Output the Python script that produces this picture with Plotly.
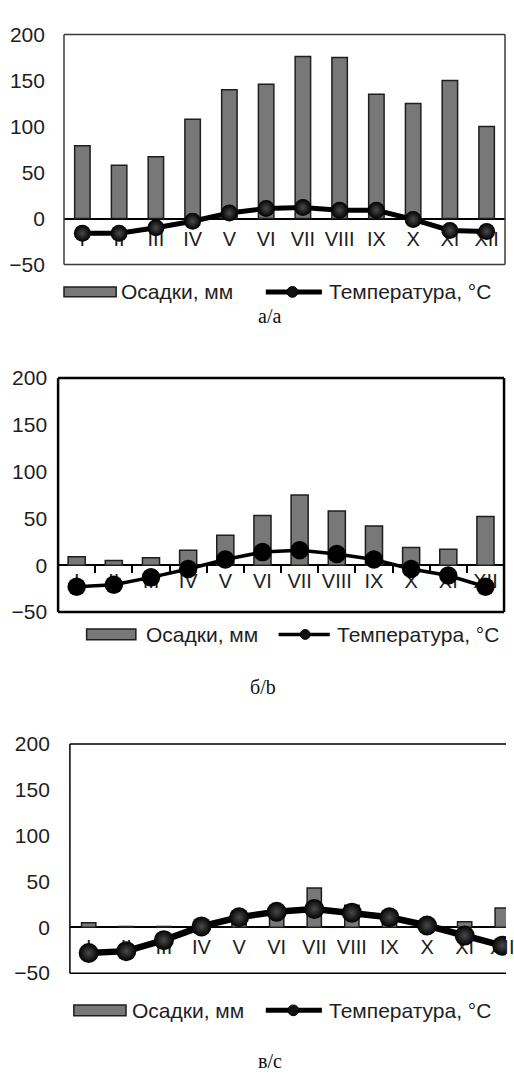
import plotly.graph_objects as go

# Месяцы, осадки (мм) и температура (°C) для трёх климатограмм
months = ["I", "II", "III", "IV", "V", "VI", "VII", "VIII", "IX", "X", "XI", "XII"]

precip_a = [79, 58, 67, 108, 140, 146, 176, 175, 135, 125, 150, 100]
temp_a = [-16, -16, -10, -3, 6, 11, 12, 9, 9, -1, -13, -14]

precip_b = [9, 5, 8, 16, 32, 53, 75, 58, 42, 19, 17, 52]
temp_b = [-23, -21, -13, -4, 6, 14, 16, 12, 6, -4, -11, -23]

precip_c = [5, 1, 1, 3, 8, 12, 43, 24, 12, 4, 6, 21]
temp_c = [-28, -26, -14, 1, 11, 17, 20, 16, 11, 2, -9, -20]

y_ticks = [-50, 0, 50, 100, 150, 200]
y_range = [-50, 200]
captions = ["а/a", "б/b", "в/c"]
series_names = ["Осадки, мм", "Температура, °C"]

W, H = 514, 1082


def fx(px):
    return px / W


def fy(py):
    return 1 - py / H


# Layout and style for each panel (pixel geometry of the page)
panels = [
    dict(precip=precip_a, temp=temp_a, box=(65, 23, 513, 258), xr=[-0.5, 11.5],
         bar_w=0.42, msize=17, lw=5, frame_w=1.5, frame_c="#3a3a3a", ticks=False,
         ystand=18, shade=True, right=True,
         leg=dict(r=(65, 118, 286, 10), t1=121, l=(270, 327), m=297, t2=332, lw=5, ms=11),
         cap=(274, 311)),
    dict(precip=precip_b, temp=temp_b, box=(59, 374, 512, 613), xr=[-0.5, 11.5],
         bar_w=0.46, msize=18.5, lw=3.5, frame_w=2.5, frame_c="#000000", ticks=True,
         ystand=10, shade=False, right=True,
         leg=dict(r=(88, 138, 636, 11), t1=146, l=(283, 335), m=310, t2=340, lw=3.5, ms=10),
         cap=(267, 690)),
    dict(precip=precip_c, temp=temp_c, box=(71, 748, 514, 982), xr=[-0.5, 11.1],
         bar_w=0.38, msize=20, lw=6.5, frame_w=1.5, frame_c="#000000", ticks=False,
         ystand=19, shade=True, right=False,
         leg=dict(r=(75, 128, 1020, 11), t1=132, l=(270, 327), m=298, t2=332, lw=5, ms=11),
         cap=(274, 1072)),
]

fig = go.Figure()
shapes = []
annotations = []
tick_font = dict(family="Liberation Sans, Arial, sans-serif", size=20, color="#1e1e1e")
y_font = dict(tick_font, size=21)
legend_font = dict(tick_font, size=21)
bar_fill = "#787878"
bar_edge = "#1e1e1e"

for i, p in enumerate(panels):
    n = "" if i == 0 else str(i + 1)
    xa, ya = "x" + n, "y" + n
    x0, y0, x1, y1 = p["box"]

    fig.add_trace(go.Bar(
        x=months, y=p["precip"], xaxis=xa, yaxis=ya, width=p["bar_w"],
        marker=dict(color=bar_fill, line=dict(color=bar_edge, width=1.5)),
        name=series_names[0], showlegend=False,
    ))
    marker = dict(size=p["msize"], color="#000000")
    if p["shade"]:
        marker["gradient"] = dict(type="radial", color="#4a4a4a")
    fig.add_trace(go.Scatter(
        x=months, y=p["temp"], xaxis=xa, yaxis=ya, mode="lines+markers",
        line=dict(color="#000000", width=p["lw"]), marker=marker,
        name=series_names[1], showlegend=False, cliponaxis=True,
    ))

    dom_y = [fy(y1), fy(y0)]
    zero_pos = dom_y[0] + (0 - y_range[0]) / (y_range[1] - y_range[0]) * (dom_y[1] - dom_y[0])

    fig.update_layout(**{
        "xaxis" + n: dict(
            type="category", domain=[fx(x0), fx(x1)], range=p["xr"],
            anchor="free", position=zero_pos, showline=False, showgrid=False,
            zeroline=False, tickfont=tick_font, layer="below traces",
            ticks="outside" if p["ticks"] else "", tickson="boundaries",
            ticklen=7, tickwidth=1.5, tickcolor="#000000", tickangle=0,
            ticklabelstandoff=2 if p["ticks"] else 6, fixedrange=True,
        ),
        "yaxis" + n: dict(
            domain=dom_y, range=y_range, tickvals=y_ticks, anchor=xa,
            showgrid=False, showline=False, ticks="", tickfont=y_font,
            zeroline=True, zerolinecolor="#000000", zerolinewidth=1.5,
            ticklabelstandoff=p["ystand"], layer="below traces", fixedrange=True,
        ),
    })

    # plot frame
    fr = dict(type="line", xref=xa + " domain", yref=ya + " domain",
              line=dict(color=p["frame_c"], width=p["frame_w"]))
    shapes.append(dict(fr, x0=0, x1=1, y0=1, y1=1))
    shapes.append(dict(fr, x0=0, x1=1, y0=0, y1=0))
    shapes.append(dict(fr, x0=0, x1=0, y0=0, y1=1))
    if p["right"]:
        shapes.append(dict(fr, x0=1, x1=1, y0=0, y1=1))

    # legend row under each chart
    lg = p["leg"]
    rx0, rx1, ryc, rh = lg["r"]
    shapes.append(dict(type="rect", xref="paper", yref="paper",
                       x0=fx(rx0), x1=fx(rx1), y0=fy(ryc + rh / 2), y1=fy(ryc - rh / 2),
                       fillcolor=bar_fill, line=dict(color=bar_edge, width=1.5)))
    annotations.append(dict(xref="paper", yref="paper", x=fx(lg["t1"]), y=fy(ryc),
                            xanchor="left", yanchor="middle", showarrow=False,
                            text=series_names[0], font=legend_font))
    lx0, lx1 = lg["l"]
    shapes.append(dict(type="line", xref="paper", yref="paper",
                       x0=fx(lx0), x1=fx(lx1), y0=fy(ryc), y1=fy(ryc),
                       line=dict(color="#000000", width=lg["lw"])))
    ms = lg["ms"] / 2
    shapes.append(dict(type="circle", xref="paper", yref="paper",
                       x0=fx(lg["m"] - ms), x1=fx(lg["m"] + ms),
                       y0=fy(ryc + ms), y1=fy(ryc - ms),
                       fillcolor="#111111", line=dict(color="#000000", width=1)))
    annotations.append(dict(xref="paper", yref="paper", x=fx(lg["t2"]), y=fy(ryc),
                            xanchor="left", yanchor="middle", showarrow=False,
                            text=series_names[1], font=legend_font))

    # caption
    cx, cy = p["cap"]
    annotations.append(dict(xref="paper", yref="paper", x=fx(cx), y=fy(cy),
                            xanchor="center", yanchor="middle", showarrow=False,
                            text=captions[i],
                            font=dict(family="Liberation Serif, Times New Roman, serif",
                                      size=20, color="#111111")))

fig.update_layout(
    width=W, height=H, margin=dict(l=0, r=0, t=0, b=0),
    paper_bgcolor="#ffffff", plot_bgcolor="#ffffff",
    showlegend=False, barmode="overlay",
    shapes=shapes, annotations=annotations,
)

fig.write_html("out.html", config=dict(displayModeBar=False))
